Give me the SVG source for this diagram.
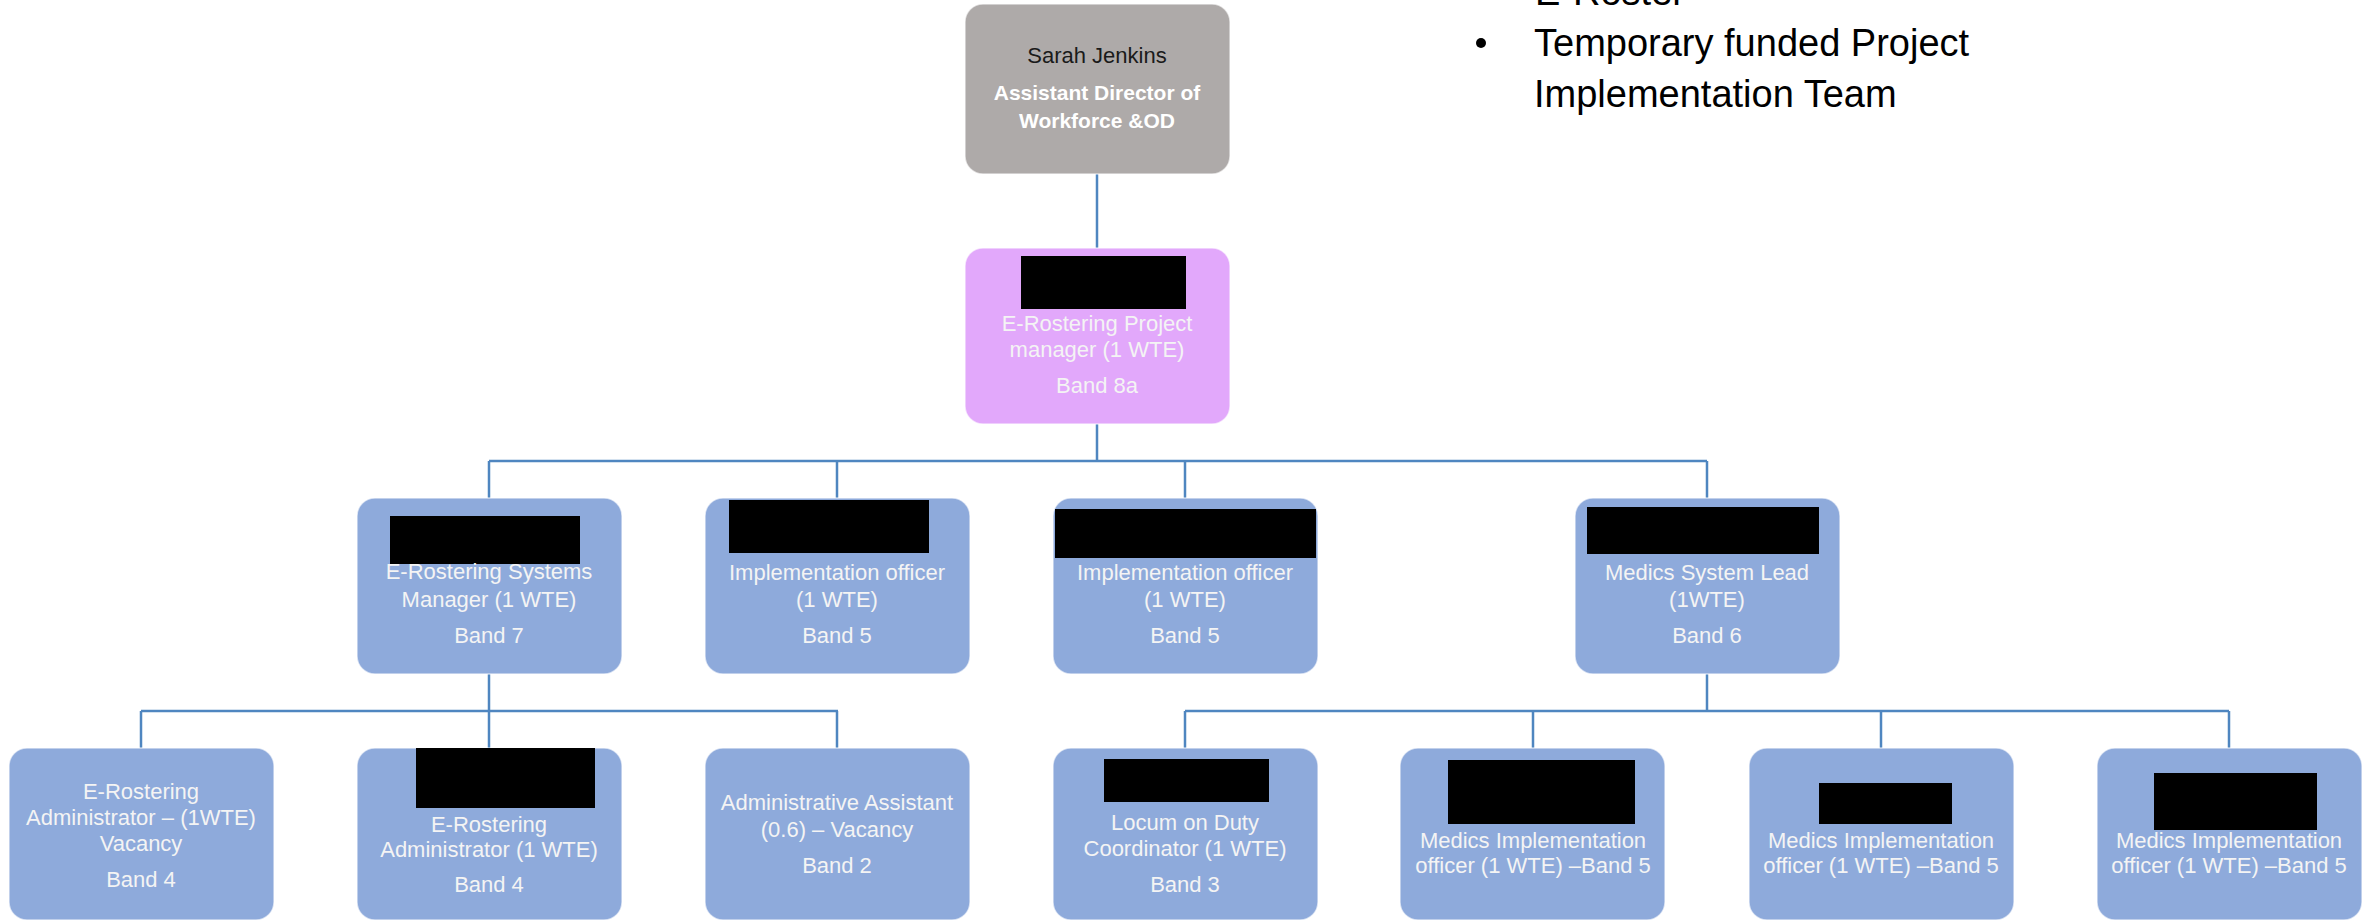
<svg xmlns="http://www.w3.org/2000/svg" width="2374" height="921" viewBox="0 0 2374 921">
<style>
.box{stroke:#ffffff;stroke-opacity:0.6;stroke-width:1.5}
.gray{fill:#aeaaa9}
.pink{fill:#e2a8fb}
.blue{fill:#8eaadb}
.red{fill:#000000}
.t{font-family:"Liberation Sans",Arial,sans-serif;font-size:22px;fill:#f4f4f4;text-anchor:middle}
.tb{font-weight:bold;fill:#ffffff;font-size:21px}
.dark{fill:#1a1a1a}
.big{font-family:"Liberation Sans",Arial,sans-serif;font-size:38px;fill:#000000}
.conn{fill:none;stroke:#4f86c0;stroke-width:2.5}
</style>
<rect width="2374" height="921" fill="#ffffff"/>
<g id="bullets">
<text class="big" x="1535" y="5">E-Roster</text>
<circle cx="1481" cy="43" r="5" fill="#000"/>
<text class="big" x="1534" y="56">Temporary funded Project</text>
<text class="big" x="1534" y="107">Implementation Team</text>
</g>
<g id="connectors">
<path class="conn" d="M1097 174V248"/>
<path class="conn" d="M1097 424V461M489 461H1707M489 461V498M837 461V498M1185 461V498M1707 461V498"/>
<path class="conn" d="M489 674V711M141 711H838M141 711V748M489 711V748M837 711V748"/>
<path class="conn" d="M1707 674V711M1185 711H2229M1185 711V748M1533 711V748M1881 711V748M2229 711V748"/>
</g>
<g id="n-director">
<rect class="box gray" x="965" y="4" width="265" height="170" rx="18"/>
<text class="t dark" x="1097" y="63">Sarah Jenkins</text>
<text class="t tb" x="1097" y="100">Assistant Director of</text>
<text class="t tb" x="1097" y="128">Workforce &amp;OD</text>
</g>
<g id="n-pm">
<rect class="box pink" x="965" y="248" width="265" height="176" rx="18"/>
<rect class="red" x="1021" y="256" width="165" height="53"/>
<text class="t" x="1097" y="331">E-Rostering Project</text>
<text class="t" x="1097" y="357">manager (1 WTE)</text>
<text class="t" x="1097" y="393">Band 8a</text>
</g>
<g id="n-sysman">
<rect class="box blue" x="357" y="498" width="265" height="176" rx="18"/>
<rect class="red" x="390" y="516" width="190" height="48"/>
<text class="t" x="489" y="579">E-Rostering Systems</text>
<text class="t" x="489" y="607">Manager (1 WTE)</text>
<text class="t" x="489" y="643">Band 7</text>
</g>
<g id="n-impl1">
<rect class="box blue" x="705" y="498" width="265" height="176" rx="18"/>
<rect class="red" x="729" y="500" width="200" height="53"/>
<text class="t" x="837" y="580">Implementation officer</text>
<text class="t" x="837" y="607">(1 WTE)</text>
<text class="t" x="837" y="643">Band 5</text>
</g>
<g id="n-impl2">
<rect class="box blue" x="1053" y="498" width="265" height="176" rx="18"/>
<rect class="red" x="1055" y="509" width="261" height="49"/>
<text class="t" x="1185" y="580">Implementation officer</text>
<text class="t" x="1185" y="607">(1 WTE)</text>
<text class="t" x="1185" y="643">Band 5</text>
</g>
<g id="n-medlead">
<rect class="box blue" x="1575" y="498" width="265" height="176" rx="18"/>
<rect class="red" x="1587" y="507" width="232" height="47"/>
<text class="t" x="1707" y="580">Medics System Lead</text>
<text class="t" x="1707" y="607">(1WTE)</text>
<text class="t" x="1707" y="643">Band 6</text>
</g>
<g id="n-admin1">
<rect class="box blue" x="9" y="748" width="265" height="172" rx="18"/>
<text class="t" x="141" y="799">E-Rostering</text>
<text class="t" x="141" y="825">Administrator – (1WTE)</text>
<text class="t" x="141" y="851">Vacancy</text>
<text class="t" x="141" y="887">Band 4</text>
</g>
<g id="n-admin2">
<rect class="box blue" x="357" y="748" width="265" height="172" rx="18"/>
<rect class="red" x="416" y="748" width="179" height="60"/>
<text class="t" x="489" y="832">E-Rostering</text>
<text class="t" x="489" y="857">Administrator (1 WTE)</text>
<text class="t" x="489" y="892">Band 4</text>
</g>
<g id="n-adminasst">
<rect class="box blue" x="705" y="748" width="265" height="172" rx="18"/>
<text class="t" x="837" y="810">Administrative Assistant</text>
<text class="t" x="837" y="837">(0.6) – Vacancy</text>
<text class="t" x="837" y="873">Band 2</text>
</g>
<g id="n-locum">
<rect class="box blue" x="1053" y="748" width="265" height="172" rx="18"/>
<rect class="red" x="1104" y="759" width="165" height="43"/>
<text class="t" x="1185" y="830">Locum on Duty</text>
<text class="t" x="1185" y="856">Coordinator (1 WTE)</text>
<text class="t" x="1185" y="892">Band 3</text>
</g>
<g id="n-medimpl1">
<rect class="box blue" x="1400" y="748" width="265" height="172" rx="18"/>
<rect class="red" x="1448" y="760" width="187" height="64"/>
<text class="t" x="1533" y="848">Medics Implementation</text>
<text class="t" x="1533" y="873">officer (1 WTE) –Band 5</text>
</g>
<g id="n-medimpl2">
<rect class="box blue" x="1749" y="748" width="265" height="172" rx="18"/>
<rect class="red" x="1819" y="783" width="133" height="41"/>
<text class="t" x="1881" y="848">Medics Implementation</text>
<text class="t" x="1881" y="873">officer (1 WTE) –Band 5</text>
</g>
<g id="n-medimpl3">
<rect class="box blue" x="2097" y="748" width="265" height="172" rx="18"/>
<rect class="red" x="2154" y="773" width="163" height="57"/>
<text class="t" x="2229" y="848">Medics Implementation</text>
<text class="t" x="2229" y="873">officer (1 WTE) –Band 5</text>
</g>
</svg>
